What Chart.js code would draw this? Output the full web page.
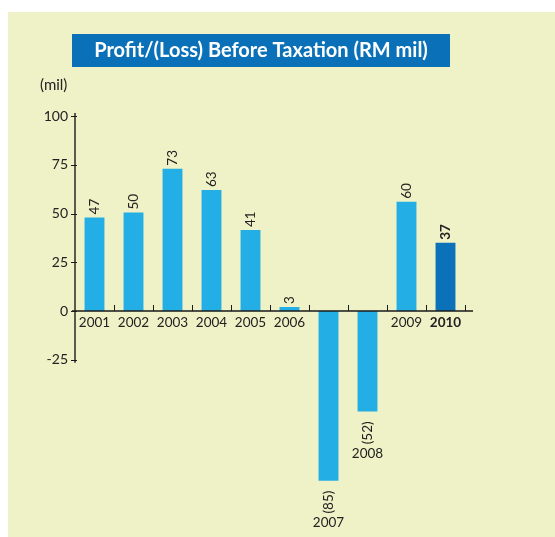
<!DOCTYPE html>
<html><head><meta charset="utf-8">
<script src="https://cdn.jsdelivr.net/npm/chart.js@4.4.1/dist/chart.umd.min.js"></script>
<style>html,body{margin:0;padding:0;background:#fff;} #wrap{width:555px;height:537px;position:relative}</style>
</head><body><div id="wrap"><canvas id="c" width="555" height="537"></canvas></div>
<script>
const years = ['2001','2002','2003','2004','2005','2006','2007','2008','2009','2010'];
const barValues = [48, 50.5, 73, 62, 41.5, 2, -87, -51.5, 56, 35];
const valueLabels = ['47','50','73','63','41','3','(85)','(52)','60','37'];
const yTicks = [100, 75, 50, 25, 0, -25];
const highlightYear = '2010';
const titleText = 'Profit/(Loss) Before Taxation (RM mil)';
const unitText = '(mil)';

const FONT = 'Lato, "Liberation Sans", sans-serif';
const TEXT = '#222222';
const LIGHT = '#23AEE5';
const DARK = '#0B72B9';

const decor = {
  id: 'decor',
  beforeDraw(chart) {
    const ctx = chart.ctx;
    ctx.save();
    ctx.fillStyle = '#ffffff';
    ctx.fillRect(0, 0, chart.width, chart.height);
    ctx.fillStyle = '#EEF2C6';
    ctx.fillRect(8, 12, chart.width - 8, chart.height - 12);
    // title box
    ctx.fillStyle = '#0A71B9';
    ctx.fillRect(72, 34, 378, 33);
    ctx.fillStyle = '#ffffff';
    ctx.font = 'bold 20px ' + FONT;
    ctx.textAlign = 'center';
    ctx.textBaseline = 'middle';
    ctx.fillText(titleText, 261, 51);
    // unit
    ctx.fillStyle = TEXT;
    ctx.font = '15px ' + FONT;
    ctx.textAlign = 'left';
    ctx.fillText(unitText, 40, 85);
    ctx.restore();
  },
  afterDatasetsDraw(chart) {
    const ctx = chart.ctx;
    const y = chart.scales.y, x = chart.scales.x;
    const ca = chart.chartArea;
    const x0 = ca.left;
    const yZero = y.getPixelForValue(0);
    ctx.save();
    ctx.strokeStyle = '#1a1a1a';
    // y axis line
    ctx.lineWidth = 1.4;
    ctx.beginPath();
    ctx.moveTo(x0, y.getPixelForValue(yTicks[0]) - 3);
    ctx.lineTo(x0, y.getPixelForValue(yTicks[yTicks.length - 1]) + 3);
    ctx.stroke();
    ctx.lineWidth = 1;
    yTicks.forEach(v => {
      const py = Math.round(y.getPixelForValue(v)) + 0.5;
      ctx.beginPath();
      ctx.moveTo(x0 - 4, py);
      ctx.lineTo(x0 + 2, py);
      ctx.stroke();
    });
    // x axis line
    ctx.lineWidth = 1.6;
    ctx.beginPath();
    ctx.moveTo(x0 - 3, yZero);
    ctx.lineTo(ca.right + 8, yZero);
    ctx.stroke();
    // x tick marks at category boundaries
    ctx.lineWidth = 1;
    const step = (ca.right - ca.left) / years.length;
    for (let i = 1; i <= years.length; i++) {
      const px = Math.round(x.getPixelForValue(i - 1) + step / 2) + 0.5;
      ctx.beginPath();
      ctx.moveTo(px, yZero);
      ctx.lineTo(px, yZero - 6);
      ctx.stroke();
    }
    // labels
    const meta = chart.getDatasetMeta(0);
    ctx.fillStyle = TEXT;
    meta.data.forEach((bar, i) => {
      const bold = years[i] === highlightYear;
      ctx.font = (bold ? 'bold ' : '') + '13.5px ' + FONT;
      const v = barValues[i];
      if (v >= 0) {
        ctx.save();
        ctx.translate(bar.x + 0.5, bar.y - 3);
        ctx.rotate(-Math.PI / 2);
        ctx.textAlign = 'left';
        ctx.textBaseline = 'middle';
        ctx.fillText(valueLabels[i], 0, 0);
        ctx.restore();
        ctx.textAlign = 'center';
        ctx.textBaseline = 'middle';
        ctx.fillText(years[i], bar.x, yZero + 12);
      } else {
        const top = bar.y + 10;
        const w = ctx.measureText(valueLabels[i]).width;
        ctx.save();
        ctx.translate(bar.x + 0.5, top);
        ctx.rotate(-Math.PI / 2);
        ctx.textAlign = 'right';
        ctx.textBaseline = 'middle';
        ctx.fillText(valueLabels[i], 0, 0);
        ctx.restore();
        ctx.textAlign = 'center';
        ctx.textBaseline = 'middle';
        ctx.fillText(years[i], bar.x, top + w + 9);
      }
    });
    ctx.restore();
  }
};

new Chart(document.getElementById('c'), {
  type: 'bar',
  data: {
    labels: years,
    datasets: [{
      data: barValues,
      backgroundColor: years.map(yr => yr === highlightYear ? DARK : LIGHT),
      borderWidth: 0,
      barPercentage: 0.51,
      categoryPercentage: 1.0
    }]
  },
  options: {
    responsive: false,
    animation: false,
    devicePixelRatio: 1,
    layout: { padding: { top: 116, bottom: 11.5, right: 90, left: 0 } },
    plugins: { legend: { display: false }, tooltip: { enabled: false }, title: { display: false } },
    scales: {
      x: { display: false, offset: true },
      y: {
        min: -110, max: 100,
        afterBuildTicks(scale) { scale.ticks = yTicks.map(v => ({ value: v })); },
        afterFit(scale) { scale.width = 75; scale.paddingTop = 0; scale.paddingBottom = 0; },
        grid: { display: false, drawTicks: false },
        border: { display: false },
        ticks: { padding: 7, color: TEXT, font: { size: 14, family: FONT }, callback: v => String(v) }
      }
    }
  },
  plugins: [decor]
});
</script>
</body></html>
